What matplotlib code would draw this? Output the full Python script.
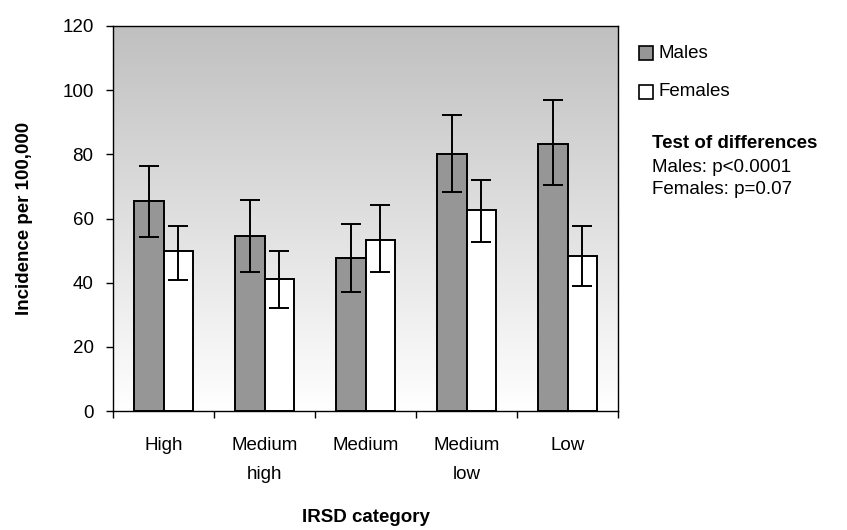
import numpy as np
import matplotlib
matplotlib.use('Agg')
import matplotlib.pyplot as plt
from matplotlib.patches import Rectangle

plt.rcParams['font.family'] = ['Liberation Sans', 'DejaVu Sans']

categories = ['High', 'Medium\nhigh', 'Medium', 'Medium\nlow', 'Low']
males = [65.3, 54.7, 47.8, 80.2, 83.1]
males_lo = [54.1, 43.3, 37.1, 68.2, 70.3]
males_hi = [76.4, 65.9, 58.3, 92.4, 96.9]
females = [49.8, 41.0, 53.3, 62.7, 48.3]
females_lo = [40.9, 32.2, 43.3, 52.7, 39.1]
females_hi = [57.6, 49.8, 64.1, 71.9, 57.6]

fs = 13.5

fig = plt.figure(figsize=(8.47, 5.30), dpi=100)
ax = fig.add_axes([113 / 847, 1 - 411 / 530, 505 / 847, 385 / 530])

# gradient background, grey at top fading to white
grad = np.linspace(0, 1, 256).reshape(-1, 1)
ax.imshow(grad, cmap=matplotlib.colors.LinearSegmentedColormap.from_list('g', ['#c0c0c0', '#ffffff']),
          aspect='auto', extent=[0, 1, 0, 1], transform=ax.transAxes, zorder=0)

x = np.arange(len(categories))
w = 0.29
m_err = [np.array(males) - np.array(males_lo), np.array(males_hi) - np.array(males)]
f_err = [np.array(females) - np.array(females_lo), np.array(females_hi) - np.array(females)]

ax.bar(x - w / 2, males, w, color='#969696', edgecolor='black', linewidth=1.4, label='Males', zorder=2)
ax.bar(x + w / 2, females, w, color='white', edgecolor='black', linewidth=1.4, label='Females', zorder=2)
ax.errorbar(x - w / 2, males, yerr=m_err, fmt='none', ecolor='black', elinewidth=1.4, capsize=7, capthick=1.4, zorder=3)
ax.errorbar(x + w / 2, females, yerr=f_err, fmt='none', ecolor='black', elinewidth=1.4, capsize=7, capthick=1.4, zorder=3)

ax.set_xlim(-0.5, len(categories) - 0.5)
ax.set_ylim(0, 120)
ax.set_yticks(range(0, 121, 20))
ax.set_xticks(np.arange(-0.5, len(categories), 1))
ax.set_xticklabels([])
ax.tick_params(axis='both', direction='out', length=5, width=1, labelsize=fs, colors='black')
ax.tick_params(axis='y', pad=9)
for i, c in enumerate(categories):
    ax.text(i, -8, c, ha='center', va='top', fontsize=fs, linespacing=1.95)

for s in ax.spines.values():
    s.set_linewidth(1)
    s.set_color('black')

ax.set_ylabel('Incidence per 100,000', fontsize=fs, fontweight='bold', labelpad=21)
fig.text(366 / 847, 1 - 518 / 530, 'IRSD category', ha='center', va='center', fontsize=fs, fontweight='bold')

# legend drawn by hand to the right of the plot
fig.patches.append(Rectangle((639 / 847, 1 - 60 / 530), 14 / 847, 14 / 530, transform=fig.transFigure,
                             facecolor='#969696', edgecolor='black', linewidth=1.2))
fig.patches.append(Rectangle((639 / 847, 1 - 99 / 530), 14 / 847, 14 / 530, transform=fig.transFigure,
                             facecolor='white', edgecolor='black', linewidth=1.2))
fig.text(658 / 847, 1 - 53 / 530, 'Males', va='center', fontsize=fs)
fig.text(658 / 847, 1 - 92 / 530, 'Females', va='center', fontsize=fs)

fig.text(652 / 847, 1 - 143 / 530, 'Test of differences', va='center', fontsize=fs, fontweight='bold')
fig.text(652 / 847, 1 - 167 / 530, 'Males: p<0.0001', va='center', fontsize=fs)
fig.text(652 / 847, 1 - 190 / 530, 'Females: p=0.07', va='center', fontsize=fs)

fig.savefig('out.png', dpi=100)
